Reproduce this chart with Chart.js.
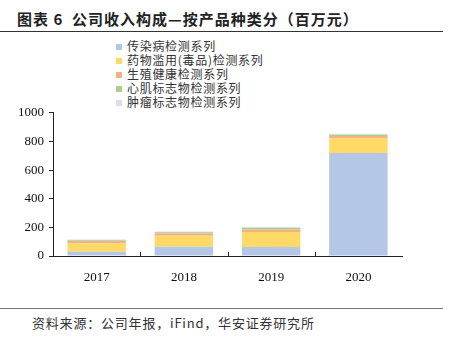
<!DOCTYPE html>
<html>
<head>
<meta charset="utf-8">
<script src="https://cdn.jsdelivr.net/npm/chart.js@4"></script>
<style>
body { margin: 0; width: 453px; height: 344px; background: #fff; position: relative; overflow: hidden; font-family: "Noto Sans CJK SC", sans-serif; }
#title { position: absolute; left: 17px; top: 8px; font-size: 15px; font-weight: bold; color: #222; white-space: nowrap; letter-spacing: 1px; }
#topline { position: absolute; left: 0; top: 31px; width: 443px; height: 0; border-top: 1.5px solid #333; }
#bottomline { position: absolute; left: 0; top: 308px; width: 443px; height: 0; border-top: 1px solid #777; }
#source { position: absolute; left: 32px; top: 313px; font-size: 13px; color: #333; white-space: nowrap; letter-spacing: 0.8px; }
#legend { position: absolute; left: 116px; top: 39px; font-size: 12px; color: #333; letter-spacing: 0.7px; }
#legend div { height: 14px; line-height: 14px; white-space: nowrap; }
#legend span { display: inline-block; width: 6px; height: 6px; margin-right: 5px; vertical-align: 1px; }
#wrap { position: absolute; left: 0; top: 100px; width: 453px; height: 190px; }
</style>
</head>
<body>
<div id="title">图表 6&nbsp; 公司收入构成—按产品种类分（百万元）</div>
<div id="topline"></div>
<div id="legend"></div>
<div id="wrap"><canvas id="chart"></canvas></div>
<div id="bottomline"></div>
<div id="source">资料来源：公司年报，iFind，华安证券研究所</div>
<script>
const years = ['2017', '2018', '2019', '2020'];
const seriesNames = ['传染病检测系列', '药物滥用(毒品)检测系列', '生殖健康检测系列', '心肌标志物检测系列', '肿瘤标志物检测系列'];
const infectious = [30, 64, 63, 720];
const drugAbuse = [58, 77, 104, 102];
const reproductive = [17, 17, 18, 16];
const cardiac = [5, 8, 12, 9];
const tumor = [5, 5, 5, 6];
const colors = ['#b4c7e7', '#ffd966', '#f4b183', '#a9d18e', '#dedede'];
const yTicks = [0, 200, 400, 600, 800, 1000];

const values = [infectious, drugAbuse, reproductive, cardiac, tumor];

const legend = document.getElementById('legend');
seriesNames.forEach((name, i) => {
  const row = document.createElement('div');
  row.innerHTML = '<span style="background:' + colors[i] + '"></span>' + name;
  legend.appendChild(row);
});

// small inward ticks between categories on the x axis
const innerTicks = {
  id: 'innerTicks',
  afterDraw(chart) {
    const x = chart.scales.x;
    const ctx = chart.ctx;
    ctx.save();
    ctx.strokeStyle = '#222';
    ctx.lineWidth = 1;
    for (let i = 1; i < years.length; i++) {
      const px = Math.round((x.getPixelForTick(i - 1) + x.getPixelForTick(i)) / 2) + 0.5;
      ctx.beginPath();
      ctx.moveTo(px, x.top);
      ctx.lineTo(px, x.top - 4);
      ctx.stroke();
    }
    ctx.restore();
  }
};

Chart.defaults.font.family = '"Liberation Serif", serif';
Chart.defaults.font.size = 13;
Chart.defaults.color = '#111';

new Chart(document.getElementById('chart'), {
  type: 'bar',
  data: {
    labels: years,
    datasets: seriesNames.map((name, i) => ({
      label: name,
      data: values[i],
      backgroundColor: colors[i],
      borderWidth: 0,
      categoryPercentage: 1,
      barPercentage: 0.67
    }))
  },
  options: {
    responsive: true,
    maintainAspectRatio: false,
    animation: false,
    layout: { padding: { top: 12, right: 51, left: 0, bottom: 0 } },
    plugins: { legend: { display: false }, tooltip: { enabled: false } },
    scales: {
      x: {
        stacked: true,
        offset: true,
        grid: { display: false },
        border: { color: '#222', width: 1 },
        ticks: { padding: 6 },
        afterFit(scale) { scale.height = 34; }
      },
      y: {
        stacked: true,
        min: 0,
        max: 1000,
        afterBuildTicks(scale) { scale.ticks = yTicks.map(v => ({ value: v })); },
        grid: { drawOnChartArea: false, drawTicks: true, tickLength: 4, color: '#222' },
        border: { color: '#222', width: 1 },
        ticks: { padding: 5, callback: v => String(v) },
        afterFit(scale) { scale.width = 53; }
      }
    }
  },
  plugins: [innerTicks]
});
</script>
</body>
</html>
